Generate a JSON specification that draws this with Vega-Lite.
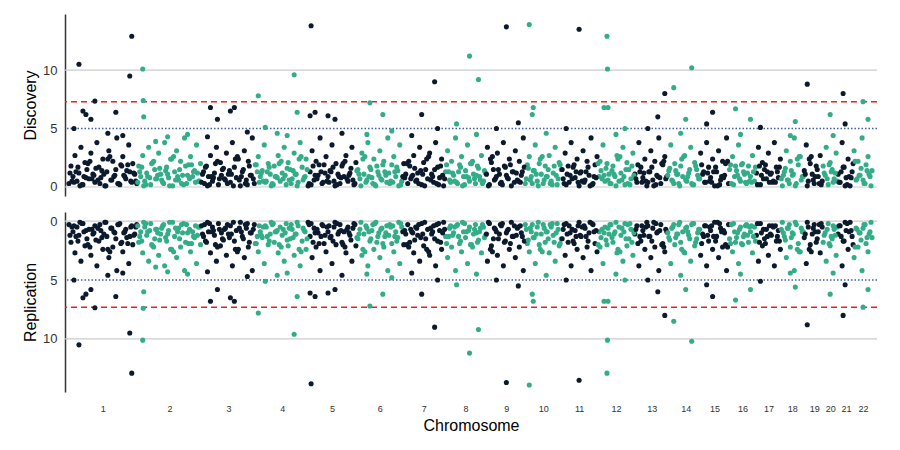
{
"$schema":"https://vega.github.io/schema/vega-lite/v6.json",
"padding":{"left":22,"top":14,"right":10,"bottom":8},
"config":{"view":{"stroke":null},"font":"Liberation Sans","axis":{"labelFont":"Liberation Sans","titleFont":"Liberation Sans"}},
"data":{"format":{"type":"csv"},"values":"c,x,y\n1,1,0.3\n1,3,1.8\n1,5,0.9\n1,7,2.7\n1,9,0.5\n1,11,1.2\n1,13,3.4\n1,15,0.2\n1,17,2.1\n1,19,1.5\n1,21,0.7\n1,23,2.9\n1,25,1.1\n1,27,0.4\n1,29,3.8\n1,31,1.7\n1,33,0.8\n1,35,2.4\n1,37,0.1\n1,39,1.3\n1,41,3.1\n1,43,0.6\n1,45,2.2\n1,47,1.0\n1,49,4.2\n1,51,0.3\n1,53,1.9\n1,55,2.6\n1,57,0.9\n1,59,1.4\n1,61,3.6\n1,63,0.5\n1,65,2.0\n1,67,1.1\n1,69,0.3\n2,71,1.8\n2,73,0.9\n2,75,2.7\n2,77,0.5\n2,79,1.2\n2,81,3.4\n2,83,0.2\n2,85,2.1\n2,87,1.5\n2,89,0.7\n2,91,2.9\n2,93,1.1\n2,95,0.4\n2,97,3.8\n2,99,1.7\n2,101,0.8\n2,103,2.4\n2,105,0.1\n2,107,1.3\n2,109,3.1\n2,111,0.6\n2,113,2.2\n2,115,1.0\n2,117,4.2\n2,119,0.3\n2,121,1.9\n2,123,2.6\n2,125,0.9\n2,127,1.4\n2,129,3.6\n2,131,0.5\n2,133,2.0\n3,135,1.1\n3,137,0.3\n3,139,1.8\n3,141,0.9\n3,143,2.7\n3,145,0.5\n3,147,1.2\n3,149,3.4\n3,151,0.2\n3,153,2.1\n3,155,1.5\n3,157,0.7\n3,159,2.9\n3,161,1.1\n3,163,0.4\n3,165,3.8\n3,167,1.7\n3,169,0.8\n3,171,2.4\n3,173,0.1\n3,175,1.3\n3,177,3.1\n3,179,0.6\n3,181,2.2\n3,183,1.0\n3,185,4.2\n3,187,0.3\n4,189,1.9\n4,191,2.6\n4,193,0.9\n4,195,1.4\n4,197,3.6\n4,199,0.5\n4,201,2.0\n4,203,1.1\n4,205,0.3\n4,207,1.8\n4,209,0.9\n4,211,2.7\n4,213,0.5\n4,215,1.2\n4,217,3.4\n4,219,0.2\n4,221,2.1\n4,223,1.5\n4,225,0.7\n4,227,2.9\n4,229,1.1\n4,231,0.4\n4,233,3.8\n4,235,1.7\n4,237,0.8\n4,239,2.4\n5,241,0.1\n5,243,1.3\n5,245,3.1\n5,247,0.6\n5,249,2.2\n5,251,1.0\n5,253,4.2\n5,255,0.3\n5,257,1.9\n5,259,2.6\n5,261,0.9\n5,263,1.4\n5,265,3.6\n5,267,0.5\n5,269,2.0\n5,271,1.1\n5,273,0.3\n5,275,1.8\n5,277,0.9\n5,279,2.7\n5,281,0.5\n5,283,1.2\n5,285,3.4\n5,287,0.2\n5,289,2.1\n6,291,1.5\n6,293,0.7\n6,295,2.9\n6,297,1.1\n6,299,0.4\n6,301,3.8\n6,303,1.7\n6,305,0.8\n6,307,2.4\n6,309,0.1\n6,311,1.3\n6,313,3.1\n6,315,0.6\n6,317,2.2\n6,319,1.0\n6,321,4.2\n6,323,0.3\n6,325,1.9\n6,327,2.6\n6,329,0.9\n6,331,1.4\n6,333,3.6\n6,335,0.5\n7,337,2.0\n7,339,1.1\n7,341,0.3\n7,343,1.8\n7,345,0.9\n7,347,2.7\n7,349,0.5\n7,351,1.2\n7,353,3.4\n7,355,0.2\n7,357,2.1\n7,359,1.5\n7,361,0.7\n7,363,2.9\n7,365,1.1\n7,367,0.4\n7,369,3.8\n7,371,1.7\n7,373,0.8\n7,375,2.4\n7,377,0.1\n8,379,1.3\n8,381,3.1\n8,383,0.6\n8,385,2.2\n8,387,1.0\n8,389,4.2\n8,391,0.3\n8,393,1.9\n8,395,2.6\n8,397,0.9\n8,399,1.4\n8,401,3.6\n8,403,0.5\n8,405,2.0\n8,407,1.1\n8,409,0.3\n8,411,1.8\n8,413,0.9\n8,415,2.7\n8,417,0.5\n8,419,1.2\n9,421,3.4\n9,423,0.2\n9,425,2.1\n9,427,1.5\n9,429,0.7\n9,431,2.9\n9,433,1.1\n9,435,0.4\n9,437,3.8\n9,439,1.7\n9,441,0.8\n9,443,2.4\n9,445,0.1\n9,447,1.3\n9,449,3.1\n9,451,0.6\n9,453,2.2\n9,455,1.0\n9,457,4.2\n10,459,0.3\n10,461,1.9\n10,463,2.6\n10,465,0.9\n10,467,1.4\n10,469,3.6\n10,471,0.5\n10,473,2.0\n10,475,1.1\n10,477,0.3\n10,479,1.8\n10,481,0.9\n10,483,2.7\n10,485,0.5\n10,487,1.2\n10,489,3.4\n10,491,0.2\n10,493,2.1\n10,495,1.5\n11,497,0.7\n11,499,2.9\n11,501,1.1\n11,503,0.4\n11,505,3.8\n11,507,1.7\n11,509,0.8\n11,511,2.4\n11,513,0.1\n11,515,1.3\n11,517,3.1\n11,519,0.6\n11,521,2.2\n11,523,1.0\n11,525,4.2\n11,527,0.3\n11,529,1.9\n11,531,2.6\n12,533,0.9\n12,535,1.4\n12,537,3.6\n12,539,0.5\n12,541,2.0\n12,543,1.1\n12,545,0.3\n12,547,1.8\n12,549,0.9\n12,551,2.7\n12,553,0.5\n12,555,1.2\n12,557,3.4\n12,559,0.2\n12,561,2.1\n12,563,1.5\n12,565,0.7\n12,567,2.9\n13,569,1.1\n13,571,0.4\n13,573,3.8\n13,575,1.7\n13,577,0.8\n13,579,2.4\n13,581,0.1\n13,583,1.3\n13,585,3.1\n13,587,0.6\n13,589,2.2\n13,591,1.0\n13,593,4.2\n13,595,0.3\n13,597,1.9\n13,599,2.6\n13,601,0.9\n14,603,1.4\n14,605,3.6\n14,607,0.5\n14,609,2.0\n14,611,1.1\n14,613,0.3\n14,615,1.8\n14,617,0.9\n14,619,2.7\n14,621,0.5\n14,623,1.2\n14,625,3.4\n14,627,0.2\n14,629,2.1\n14,631,1.5\n14,633,0.7\n15,635,2.9\n15,637,1.1\n15,639,0.4\n15,641,3.8\n15,643,1.7\n15,645,0.8\n15,647,2.4\n15,649,0.1\n15,651,1.3\n15,653,3.1\n15,655,0.6\n15,657,2.2\n15,659,1.0\n15,661,4.2\n15,663,0.3\n16,665,1.9\n16,667,2.6\n16,669,0.9\n16,671,1.4\n16,673,3.6\n16,675,0.5\n16,677,2.0\n16,679,1.1\n16,681,0.3\n16,683,1.8\n16,685,0.9\n16,687,2.7\n16,689,0.5\n17,691,1.2\n17,693,3.4\n17,695,0.2\n17,697,2.1\n17,699,1.5\n17,701,0.7\n17,703,2.9\n17,705,1.1\n17,707,0.4\n17,709,3.8\n17,711,1.7\n17,713,0.8\n17,715,2.4\n18,717,0.1\n18,719,1.3\n18,721,3.1\n18,723,0.6\n18,725,2.2\n18,727,1.0\n18,729,4.2\n18,731,0.3\n18,733,1.9\n18,735,2.6\n18,737,0.9\n19,739,1.4\n19,741,3.6\n19,743,0.5\n19,745,2.0\n19,747,1.1\n19,749,0.3\n19,751,1.8\n19,753,0.9\n19,755,2.7\n19,757,0.5\n20,759,1.2\n20,761,3.4\n20,763,0.2\n20,765,2.1\n20,767,1.5\n20,769,0.7\n20,771,2.9\n21,773,1.1\n21,775,0.4\n21,777,3.8\n21,779,1.7\n21,781,0.8\n21,783,2.4\n21,785,0.1\n21,787,1.3\n22,789,3.1\n22,791,0.6\n22,793,2.2\n22,795,1.0\n22,797,4.2\n22,799,0.3\n22,801,1.9\n22,803,2.6\n22,805,0.9\n22,807,1.4\n1,2,1.2\n1,4,0.5\n1,6,0.4\n1,8,1.3\n1,10,1.7\n1,12,0.1\n1,14,0.2\n1,16,0.9\n1,18,0.8\n1,20,2.0\n1,22,2.2\n1,24,0.7\n1,26,1.0\n1,28,1.6\n1,30,0.6\n1,32,0.3\n1,34,1.4\n1,36,1.1\n1,38,0.1\n1,40,2.4\n1,42,2.6\n1,44,0.6\n1,46,0.9\n1,48,1.5\n1,50,0.3\n1,52,0.2\n1,54,1.8\n1,56,1.0\n1,58,0.7\n1,60,1.9\n1,62,1.3\n1,64,0.4\n1,66,1.2\n1,68,0.5\n2,70,0.4\n2,72,1.3\n2,74,1.7\n2,76,0.1\n2,78,0.2\n2,80,0.9\n2,82,0.8\n2,84,2.0\n2,86,2.2\n2,88,0.7\n2,90,1.0\n2,92,1.6\n2,94,0.6\n2,96,0.3\n2,98,1.4\n2,100,1.1\n2,102,0.1\n2,104,2.4\n2,106,2.6\n2,108,0.6\n2,110,0.9\n2,112,1.5\n2,114,0.3\n2,116,0.2\n2,118,1.8\n2,120,1.0\n2,122,0.7\n2,124,1.9\n2,126,1.3\n2,128,0.4\n2,130,1.2\n2,132,0.5\n3,134,0.4\n3,136,1.3\n3,138,1.7\n3,140,0.1\n3,142,0.2\n3,144,0.9\n3,146,0.8\n3,148,2.0\n3,150,2.2\n3,152,0.7\n3,154,1.0\n3,156,1.6\n3,158,0.6\n3,160,0.3\n3,162,1.4\n3,164,1.1\n3,166,0.1\n3,168,2.4\n3,170,2.6\n3,172,0.6\n3,174,0.9\n3,176,1.5\n3,178,0.3\n3,180,0.2\n3,182,1.8\n3,184,1.0\n3,186,0.7\n4,188,1.9\n4,190,1.3\n4,192,0.4\n4,194,1.2\n4,196,0.5\n4,198,0.4\n4,200,1.3\n4,202,1.7\n4,204,0.1\n4,206,0.2\n4,208,0.9\n4,210,0.8\n4,212,2.0\n4,214,2.2\n4,216,0.7\n4,218,1.0\n4,220,1.6\n4,222,0.6\n4,224,0.3\n4,226,1.4\n4,228,1.1\n4,230,0.1\n4,232,2.4\n4,234,2.6\n4,236,0.6\n4,238,0.9\n4,240,1.5\n5,242,0.3\n5,244,0.2\n5,246,1.8\n5,248,1.0\n5,250,0.7\n5,252,1.9\n5,254,1.3\n5,256,0.4\n5,258,1.2\n5,260,0.5\n5,262,0.4\n5,264,1.3\n5,266,1.7\n5,268,0.1\n5,270,0.2\n5,272,0.9\n5,274,0.8\n5,276,2.0\n5,278,2.2\n5,280,0.7\n5,282,1.0\n5,284,1.6\n5,286,0.6\n5,288,0.3\n6,290,1.4\n6,292,1.1\n6,294,0.1\n6,296,2.4\n6,298,2.6\n6,300,0.6\n6,302,0.9\n6,304,1.5\n6,306,0.3\n6,308,0.2\n6,310,1.8\n6,312,1.0\n6,314,0.7\n6,316,1.9\n6,318,1.3\n6,320,0.4\n6,322,1.2\n6,324,0.5\n6,326,0.4\n6,328,1.3\n6,330,1.7\n6,332,0.1\n6,334,0.2\n7,336,0.9\n7,338,0.8\n7,340,2.0\n7,342,2.2\n7,344,0.7\n7,346,1.0\n7,348,1.6\n7,350,0.6\n7,352,0.3\n7,354,1.4\n7,356,1.1\n7,358,0.1\n7,360,2.4\n7,362,2.6\n7,364,0.6\n7,366,0.9\n7,368,1.5\n7,370,0.3\n7,372,0.2\n7,374,1.8\n7,376,1.0\n7,378,0.7\n8,380,1.9\n8,382,1.3\n8,384,0.4\n8,386,1.2\n8,388,0.5\n8,390,0.4\n8,392,1.3\n8,394,1.7\n8,396,0.1\n8,398,0.2\n8,400,0.9\n8,402,0.8\n8,404,2.0\n8,406,2.2\n8,408,0.7\n8,410,1.0\n8,412,1.6\n8,414,0.6\n8,416,0.3\n8,418,1.4\n9,420,1.1\n9,422,0.1\n9,424,2.4\n9,426,2.6\n9,428,0.6\n9,430,0.9\n9,432,1.5\n9,434,0.3\n9,436,0.2\n9,438,1.8\n9,440,1.0\n9,442,0.7\n9,444,1.9\n9,446,1.3\n9,448,0.4\n9,450,1.2\n9,452,0.5\n9,454,0.4\n9,456,1.3\n9,458,1.7\n10,460,0.7\n10,462,1.6\n10,464,0.6\n10,466,0.3\n10,468,1.4\n10,470,1.1\n10,472,0.1\n10,474,2.4\n10,476,2.6\n10,478,0.6\n10,480,0.9\n10,482,1.5\n10,484,0.3\n10,486,0.2\n10,488,1.8\n10,490,1.0\n10,492,0.7\n10,494,1.9\n11,496,1.5\n11,498,0.3\n11,500,0.2\n11,502,1.8\n11,504,1.0\n11,506,0.7\n11,508,1.9\n11,510,1.3\n11,512,0.4\n11,514,1.2\n11,516,0.5\n11,518,0.4\n11,520,1.3\n11,522,1.7\n11,524,0.1\n11,526,0.2\n11,528,0.9\n11,530,0.8\n12,532,2.0\n12,534,2.2\n12,536,0.7\n12,538,1.0\n12,540,1.6\n12,542,0.6\n12,544,0.3\n12,546,1.4\n12,548,1.1\n12,550,0.1\n12,552,2.4\n12,554,2.6\n12,556,0.6\n12,558,0.9\n12,560,1.5\n12,562,0.3\n12,564,0.2\n12,566,1.8\n12,568,1.0\n13,570,0.7\n13,572,1.9\n13,574,1.3\n13,576,0.4\n13,578,1.2\n13,580,0.5\n13,582,0.4\n13,584,1.3\n13,586,1.7\n13,588,0.1\n13,590,0.2\n13,592,0.9\n13,594,0.8\n13,596,2.0\n13,598,2.2\n13,600,0.7\n14,602,1.0\n14,604,1.6\n14,606,0.6\n14,608,0.3\n14,610,1.4\n14,612,1.1\n14,614,0.1\n14,616,2.4\n14,618,2.6\n14,620,0.6\n14,622,0.9\n14,624,1.5\n14,626,0.3\n14,628,0.2\n14,630,1.8\n14,632,1.0\n14,634,0.7\n15,636,1.9\n15,638,1.3\n15,640,0.4\n15,642,1.2\n15,644,0.5\n15,646,0.4\n15,648,1.3\n15,650,1.7\n15,652,0.1\n15,654,0.2\n15,656,0.9\n15,658,0.8\n15,660,2.0\n15,662,2.2\n16,664,1.5\n16,666,0.3\n16,668,0.2\n16,670,1.8\n16,672,1.0\n16,674,0.7\n16,676,1.9\n16,678,1.3\n16,680,0.4\n16,682,1.2\n16,684,0.5\n16,686,0.4\n16,688,1.3\n16,690,1.7\n17,692,0.2\n17,694,1.8\n17,696,1.0\n17,698,0.7\n17,700,1.9\n17,702,1.3\n17,704,0.4\n17,706,1.2\n17,708,0.5\n17,710,0.4\n17,712,1.3\n17,714,1.7\n18,716,0.7\n18,718,1.0\n18,720,1.6\n18,722,0.6\n18,724,0.3\n18,726,1.4\n18,728,1.1\n18,730,0.1\n18,732,2.4\n18,734,2.6\n18,736,0.6\n18,738,0.9\n19,740,1.1\n19,742,0.1\n19,744,2.4\n19,746,2.6\n19,748,0.6\n19,750,0.9\n19,752,1.5\n19,754,0.3\n19,756,0.2\n20,758,1.8\n20,760,1.0\n20,762,0.7\n20,764,1.9\n20,766,1.3\n20,768,0.4\n20,770,1.2\n20,772,0.5\n21,774,0.4\n21,776,1.3\n21,778,1.7\n21,780,0.1\n21,782,0.2\n21,784,0.9\n21,786,0.8\n21,788,2.0\n22,790,2.2\n22,792,0.7\n22,794,1.0\n22,796,1.6\n22,798,0.6\n22,800,0.3\n22,802,1.4\n22,804,1.1\n22,806,0.1\n1,11,10.5\n1,27,7.35\n1,15,6.5\n1,18,6.2\n1,48,6.4\n1,6,5.0\n1,23,5.8\n1,64,12.9\n1,62,9.5\n1,40,4.6\n1,55,4.4\n2,75,10.1\n2,75.5,7.4\n2,76,6.0\n2,120,4.5\n2,100,4.3\n2,88,3.9\n3,143,6.8\n3,163,6.5\n3,150,5.8\n3,167,6.8\n3,180,4.7\n3,140,4.3\n4,191,7.8\n4,227,9.6\n4,198,5.1\n4,230,6.4\n4,210,4.6\n4,220,4.4\n5,244,13.8\n5,243,6.1\n5,248,6.4\n5,261,6.1\n5,268,5.8\n5,275,4.6\n6,303,7.2\n6,316,6.2\n6,300,4.5\n6,325,4.8\n7,368,9.0\n7,355,6.2\n7,371,5.0\n7,345,4.4\n8,403,11.2\n8,412,9.2\n8,390,5.4\n8,410,4.5\n9,440,13.7\n9,452,5.5\n9,430,5.0\n10,463,13.9\n10,467,6.8\n10,466,6.2\n10,480,4.6\n11,513,13.5\n11,500,5.0\n12,541,12.9\n12,541.5,10.1\n12,538,6.8\n12,542,6.8\n12,559,5.0\n12,550,4.5\n13,599,8.0\n13,592,6.0\n13,582,5.0\n14,626,10.2\n14,608,8.5\n14,620,5.8\n14,615,4.6\n15,647,6.4\n15,641,5.4\n16,670,6.7\n16,685,5.8\n16,675,4.5\n17,695,5.1\n18,730,5.6\n18,725,4.4\n19,742,8.8\n20,765,6.2\n20,768,4.4\n21,778,8.0\n21,780,5.4\n22,798,7.3\n22,803,5.8"},
"spacing":16,
"vconcat":[
{"width":812,"height":182,
"layer":[
{"data":{"values":[{"v":0},{"v":10}]},"mark":{"type":"rule","color":"#cccccc","strokeWidth":1.2},"encoding":{"y":{"field":"v","type":"quantitative"}}},
{"data":{"values":[{"v":7.3}]},"mark":{"type":"rule","color":"#e8231f","strokeDash":[6,4],"strokeWidth":1.5},"encoding":{"y":{"field":"v","type":"quantitative"}}},
{"data":{"values":[{"v":5}]},"mark":{"type":"rule","color":"#3a5fb0","strokeDash":[1.5,2],"strokeWidth":1.5},"encoding":{"y":{"field":"v","type":"quantitative"}}},
{"mark":{"type":"circle","size":26,"opacity":1},
"encoding":{
"x":{"field":"x","type":"quantitative","scale":{"domain":[-3,812],"nice":false,"zero":false},"axis":null},
"y":{"field":"y","type":"quantitative","scale":{"domain":[-0.77,14.8],"nice":false,"zero":false},"axis":{"values":[0,5,10],"title":"Discovery","titleFontSize":16,"titleFontWeight":"normal","titleColor":"#000","labelFontSize":13,"labelColor":"#333","ticks":false,"grid":false,"domainColor":"#333","domainWidth":1.5,"labelPadding":8}},
"color":{"field":"c","type":"nominal","legend":null,"scale":{"domain":["1","2","3","4","5","6","7","8","9","10","11","12","13","14","15","16","17","18","19","20","21","22"],"range":["#0c1a2d","#33ad88"]}}}}
]},
{"width":812,"height":180,
"layer":[
{"data":{"values":[{"v":0},{"v":10}]},"mark":{"type":"rule","color":"#cccccc","strokeWidth":1.2},"encoding":{"y":{"field":"v","type":"quantitative"}}},
{"data":{"values":[{"v":7.3}]},"mark":{"type":"rule","color":"#e8231f","strokeDash":[6,4],"strokeWidth":1.5},"encoding":{"y":{"field":"v","type":"quantitative"}}},
{"data":{"values":[{"v":5}]},"mark":{"type":"rule","color":"#3a5fb0","strokeDash":[1.5,2],"strokeWidth":1.5},"encoding":{"y":{"field":"v","type":"quantitative"}}},
{"mark":{"type":"circle","size":26,"opacity":1},
"encoding":{
"x":{"field":"x","type":"quantitative","scale":{"domain":[-3,812],"nice":false,"zero":false},"axis":{"values":[35,102,161,215,265,313,357,399,440,477,513,550,586,620,649,677,703,727,749,765,781,798],"labelExpr":"indexof([35,102,161,215,265,313,357,399,440,477,513,550,586,620,649,677,703,727,749,765,781,798], datum.value)+1","domain":false,"ticks":false,"grid":false,"labelFontSize":9,"labelColor":"#333","labelPadding":12,"title":"Chromosome","titleFontSize":16,"titleFontWeight":"normal","titleColor":"#000","titlePadding":4}},
"y":{"field":"y","type":"quantitative","scale":{"domain":[-0.77,14.5],"nice":false,"zero":false,"reverse":true},"axis":{"values":[0,5,10],"title":"Replication","titleFontSize":16,"titleFontWeight":"normal","titleColor":"#000","labelFontSize":13,"labelColor":"#333","ticks":false,"grid":false,"domainColor":"#333","domainWidth":1.5,"labelPadding":8}},
"color":{"field":"c","type":"nominal","legend":null,"scale":{"domain":["1","2","3","4","5","6","7","8","9","10","11","12","13","14","15","16","17","18","19","20","21","22"],"range":["#0c1a2d","#33ad88"]}}}}
]}
]}
